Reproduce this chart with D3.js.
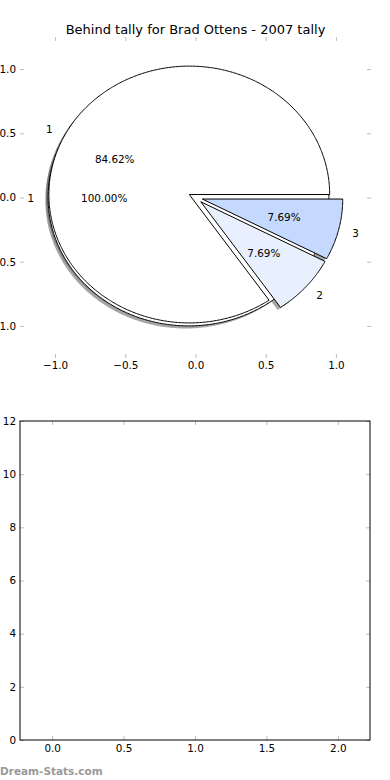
<!DOCTYPE html>
<html>
<head>
<meta charset="utf-8">
<script src="https://cdn.jsdelivr.net/npm/d3@7"></script>
<style>
body { margin: 0; background: #fff; }
text { font-family: "DejaVu Sans", sans-serif; fill: #000; }
</style>
</head>
<body>
<svg id="vis" width="390" height="780"></svg>
<script>
// data
var title = "Behind tally for Brad Ottens - 2007 tally";
var tallyLabels = ["1"];
var tallyValues = [1];
var behindLabels = ["1", "2", "3"];
var behindValues = [11, 1, 1];
var behindColors = ["#ffffff", "#e9f0fd", "#c5d8fd"];
var pieTicks = [-1.0, -0.5, 0.0, 0.5, 1.0];
var barXTicks = [0.0, 0.5, 1.0, 1.5, 2.0];
var barYTicks = [0, 2, 4, 6, 8, 10, 12];

var svg = d3.select("#vis");
var tickCol = "#bdbdbd";

// ---------- top: pie axes (no frame) ----------
var x = d3.scaleLinear().domain([-1.25, 1.25]).range([20, 371]);
var y = d3.scaleLinear().domain([-1.25, 1.25]).range([358, 37]);

var pieG = svg.append("g");
var shadowG = pieG.append("g"),
    wedgeG = pieG.append("g"),
    textG = pieG.append("g");

var explode = 0.05;
var fmt = d3.format(".2f");

function arcPoints(cx, cy, a0, a1) {
  var n = Math.max(2, Math.ceil((a1 - a0) / 0.01));
  return d3.range(n + 1).map(function(i) {
    var t = a0 + (a1 - a0) * i / n;
    return [x(cx + Math.cos(t)), y(cy + Math.sin(t))];
  });
}

function drawPie(values, labels, colors) {
  var total = d3.sum(values);
  var arcs = d3.pie().sort(null)(values);
  arcs.forEach(function(a, i) {
    var mid = (a.startAngle + a.endAngle) / 2;
    var cx = explode * Math.cos(mid), cy = explode * Math.sin(mid);
    var pts = arcPoints(cx, cy, a.startAngle, a.endAngle);
    var full = (a.endAngle - a.startAngle) > 2 * Math.PI - 1e-9;
    var d = full ? "M" + pts.join("L") + "Z"
                 : "M" + [x(cx), y(cy)] + "L" + pts.join("L") + "Z";

    shadowG.append("path")
      .attr("d", d)
      .attr("transform", "translate(" + (x(-0.02) - x(0)) + "," + (y(-0.02) - y(0)) + ")")
      .attr("fill", "#4d4d4d")
      .attr("fill-opacity", 0.5)
      .attr("stroke", "none");

    wedgeG.append("path")
      .attr("d", d)
      .attr("fill", colors[i])
      .attr("stroke", "#000")
      .attr("stroke-width", 1)
      .attr("stroke-linejoin", "miter");

    var lx = cx + 1.1 * Math.cos(mid), ly = cy + 1.1 * Math.sin(mid);
    textG.append("text")
      .attr("x", x(lx)).attr("y", y(ly))
      .attr("text-anchor", lx > 0 ? "start" : "end")
      .attr("dominant-baseline", "central")
      .style("font-size", "10.4px")
      .text(labels[i]);

    var px = cx + 0.6 * Math.cos(mid), py = cy + 0.6 * Math.sin(mid);
    textG.append("text")
      .attr("x", x(px)).attr("y", y(py))
      .attr("text-anchor", "middle")
      .attr("dominant-baseline", "central")
      .style("font-size", "10.4px")
      .text(fmt(values[i] / total * 100) + "%");
  });
}

drawPie(tallyValues, tallyLabels, ["#ffffff"]);
drawPie(behindValues, behindLabels, behindColors);

var minusFmt = function(d) { return fmt(d).slice(0, -1).replace("-", "\u2212"); };

function styleAxis(g) {
  g.select(".domain").remove();
  g.selectAll(".tick line").attr("stroke", tickCol);
  g.selectAll(".tick text").style("font-size", "10.4px").attr("fill", "#000");
}

pieG.append("g").attr("transform", "translate(0," + y.range()[0] + ")")
  .call(d3.axisBottom(x).tickValues(pieTicks).tickSize(-4).tickPadding(4).tickFormat(minusFmt))
  .call(styleAxis);
pieG.append("g").attr("transform", "translate(0," + y.range()[1] + ")")
  .call(d3.axisTop(x).tickValues(pieTicks).tickSize(-4).tickFormat(""))
  .call(styleAxis);
pieG.append("g").attr("transform", "translate(" + x.range()[0] + ",0)")
  .call(d3.axisLeft(y).tickValues(pieTicks).tickSize(-4).tickPadding(4).tickFormat(minusFmt))
  .call(styleAxis);
pieG.append("g").attr("transform", "translate(" + x.range()[1] + ",0)")
  .call(d3.axisRight(y).tickValues(pieTicks).tickSize(-4).tickFormat(""))
  .call(styleAxis);

pieG.append("text")
  .attr("x", (x.range()[0] + x.range()[1]) / 2)
  .attr("y", 34)
  .attr("text-anchor", "middle")
  .style("font-size", "13px")
  .text(title);

// ---------- bottom: empty axes ----------
var x2 = d3.scaleLinear().domain([-0.225, 2.225]).range([20, 370]);
var y2 = d3.scaleLinear().domain([0, 12]).range([740, 421]);

var barG = svg.append("g");
barG.append("g").attr("transform", "translate(0," + y2.range()[0] + ")")
  .call(d3.axisBottom(x2).tickValues(barXTicks).tickSize(-4).tickPadding(5).tickFormat(d3.format(".1f")))
  .call(styleAxis);
barG.append("g").attr("transform", "translate(0," + y2.range()[1] + ")")
  .call(d3.axisTop(x2).tickValues(barXTicks).tickSize(-4).tickFormat(""))
  .call(styleAxis);
barG.append("g").attr("transform", "translate(" + x2.range()[0] + ",0)")
  .call(d3.axisLeft(y2).tickValues(barYTicks).tickSize(-4).tickPadding(4).tickFormat(d3.format("d")))
  .call(styleAxis);
barG.append("g").attr("transform", "translate(" + x2.range()[1] + ",0)")
  .call(d3.axisRight(y2).tickValues(barYTicks).tickSize(-4).tickFormat(""))
  .call(styleAxis);

barG.append("rect")
  .attr("x", x2.range()[0]).attr("y", y2.range()[1])
  .attr("width", x2.range()[1] - x2.range()[0])
  .attr("height", y2.range()[0] - y2.range()[1])
  .attr("fill", "none")
  .attr("stroke", "#000")
  .attr("stroke-width", 1);

// watermark
svg.append("text")
  .attr("x", 0).attr("y", 775)
  .style("font-size", "10.5px")
  .style("font-weight", "bold")
  .style("fill", "#999")
  .text("Dream-Stats.com");
</script>
</body>
</html>
